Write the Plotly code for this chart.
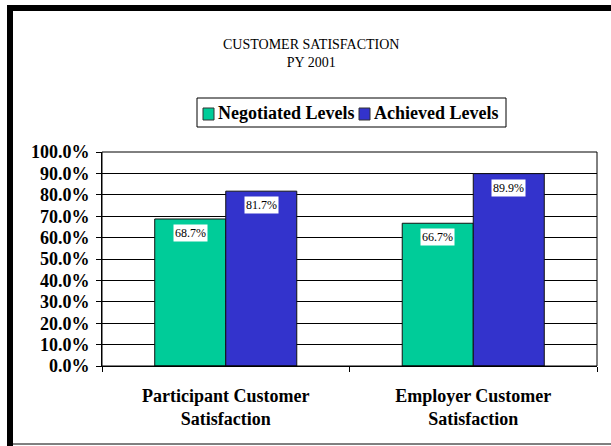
import plotly.graph_objects as go

categories = ["Participant Customer<br>Satisfaction", "Employer Customer<br>Satisfaction"]
negotiated = [0.687, 0.667]
achieved = [0.817, 0.899]
series_names = ["Negotiated Levels", "Achieved Levels"]

COLORS = {"green": "#00CC99", "blue": "#3333CC", "black": "#000000"}
FONT = "Liberation Serif"

W, H = 611, 446
L, R, T, B = 102, 14, 152, 80
PW, PH = W - L - R, H - T - B


def px_x(x):
    return (x - L) / PW


def px_y(y):
    return (H - B - y) / PH


fig = go.Figure()
series = [(series_names[0], negotiated, COLORS["green"]),
          (series_names[1], achieved, COLORS["blue"])]
for name, vals, col in series:
    fig.add_trace(go.Bar(
        x=categories, y=vals, name=name, showlegend=False,
        marker=dict(color=col, line=dict(color="#111111", width=1)),
    ))

# value labels with white boxes just under each bar top
for vals, shift in [(negotiated, -35.5), (achieved, 35.5)]:
    for cat, v in zip(categories, vals):
        fig.add_annotation(
            x=cat, y=v, xref="x", yref="y", text=f"{v*100:.1f}%",
            showarrow=False, xshift=shift, yshift=-5, yanchor="top",
            bgcolor="white", borderpad=1,
            font=dict(family=FONT, size=12, color="black"),
        )

fig.add_annotation(
    x=px_x(311), y=px_y(35), xref="paper", yref="paper",
    text="CUSTOMER SATISFACTION<br>PY 2001", showarrow=False,
    yanchor="top", xanchor="center",
    font=dict(family=FONT, size=14, color="black"),
)

# compact legend box (Excel style: small swatch hugging its label)
fig.add_shape(type="rect", xref="paper", yref="paper",
              x0=px_x(197), x1=px_x(506), y0=px_y(127), y1=px_y(98),
              fillcolor="white", line=dict(color="black", width=1))
for (name, vals, col), sx in zip(series, [203, 359]):
    fig.add_shape(type="rect", xref="paper", yref="paper",
                  x0=px_x(sx), x1=px_x(sx + 11), y0=px_y(120), y1=px_y(108),
                  fillcolor=col, line=dict(color="#333333", width=1))
    fig.add_annotation(
        x=px_x(sx + 13), y=px_y(113), xref="paper", yref="paper",
        text=f"<b>{name}</b>", showarrow=False, xanchor="left", yanchor="middle",
        font=dict(family=FONT, size=18, color="black"),
    )

# outer frame
fig.add_shape(type="rect", xref="paper", yref="paper",
              x0=px_x(7), x1=px_x(13), y0=px_y(446), y1=px_y(5),
              fillcolor="black", line=dict(width=0))
fig.add_shape(type="rect", xref="paper", yref="paper",
              x0=px_x(7), x1=px_x(611), y0=px_y(11), y1=px_y(5),
              fillcolor="black", line=dict(width=0))
fig.add_shape(type="line", xref="paper", yref="paper",
              x0=px_x(13), x1=px_x(611), y0=px_y(444), y1=px_y(444),
              line=dict(color="black", width=1))
# plot-area frame (top and right)
fig.add_shape(type="rect", xref="paper", yref="paper",
              x0=0, x1=1, y0=0, y1=1, line=dict(color="black", width=1))

fig.update_layout(
    width=W, height=H,
    paper_bgcolor="white", plot_bgcolor="white",
    margin=dict(l=L, r=R, t=T, b=B),
    barmode="group", bargap=0.426, bargroupgap=0,
    font=dict(family=FONT, color="black"),
    xaxis=dict(
        showline=True, linecolor="black", linewidth=1,
        ticks="outside", tickson="boundaries", ticklen=5, tickcolor="black",
        showgrid=False, ticklabelstandoff=13,
        tickfont=dict(family=FONT, size=18, color="black", weight="bold"),
    ),
    yaxis=dict(
        range=[0, 1], dtick=0.1, tickformat=".1%",
        showline=True, linecolor="black", linewidth=1,
        ticks="outside", ticklen=5, tickcolor="black",
        showgrid=True, gridcolor="black", gridwidth=1, zeroline=False,
        ticklabelstandoff=3,
        tickfont=dict(family=FONT, size=18, color="black", weight="bold"),
    ),
)

fig.write_html("out.html", config={"displayModeBar": False},
               post_script="document.body.style.margin='0';")
